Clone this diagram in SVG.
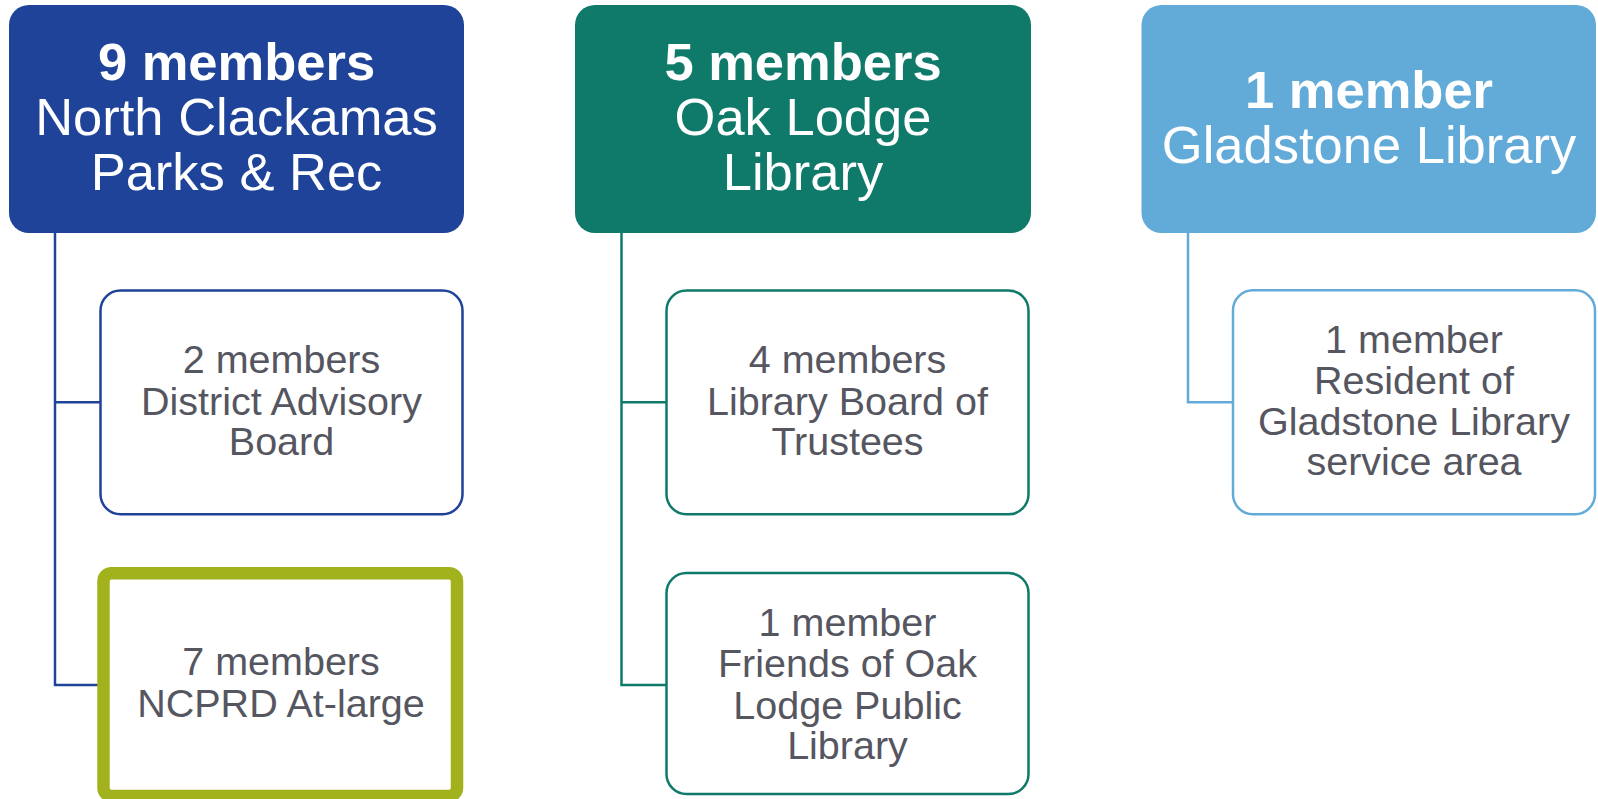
<svg xmlns="http://www.w3.org/2000/svg" width="1598" height="799" viewBox="0 0 1598 799">
<style>
.hd{font-family:"Liberation Sans",Arial,sans-serif;font-size:52.5px;fill:#ffffff;text-anchor:middle}
.b{font-weight:bold}
.ch{font-family:"Liberation Sans",Arial,sans-serif;font-size:39.5px;fill:#55565f;text-anchor:middle}
.conn{fill:none;stroke-width:2.5}
.cbox{fill:#ffffff;stroke-width:2.5}
</style>
<rect width="1598" height="799" fill="#ffffff"/>
<g id="connectors">
<path class="conn" stroke="#1f4399" d="M55,233 V685 H98 M55,402.3 H101"/>
<path class="conn" stroke="#0f7a6a" d="M621.5,233 V685 H667 M621.5,402.3 H667"/>
<path class="conn" stroke="#62abd8" d="M1188,233 V402.3 H1234"/>
</g>
<g id="n-ncprd">
<rect x="9" y="5" width="455" height="228" rx="20" fill="#1e4398"/>
<text class="hd b" x="236.5" y="80">9 members</text>
<text class="hd" x="236.5" y="135">North Clackamas</text>
<text class="hd" x="236.5" y="190">Parks &amp; Rec</text>
</g>
<g id="n-dab">
<rect class="cbox" stroke="#1f4399" x="100.5" y="290.5" width="362" height="223.8" rx="20"/>
<text class="ch" x="281.5" y="373">2 members</text>
<text class="ch" x="281.5" y="414.5">District Advisory</text>
<text class="ch" x="281.5" y="455">Board</text>
</g>
<g id="n-atlarge">
<rect x="103.5" y="573.2" width="353.5" height="222.8" rx="8" fill="#ffffff" stroke="#a2b21c" stroke-width="12.5"/>
<text class="ch" x="281" y="675">7 members</text>
<text class="ch" x="281" y="716.5">NCPRD At-large</text>
</g>
<g id="n-oaklodge">
<rect x="575" y="5" width="456" height="228" rx="20" fill="#0f7a6a"/>
<text class="hd b" x="803" y="80">5 members</text>
<text class="hd" x="803" y="135">Oak Lodge</text>
<text class="hd" x="803" y="190">Library</text>
</g>
<g id="n-trustees">
<rect class="cbox" stroke="#0f7a6a" x="666.5" y="290.5" width="362" height="223.8" rx="20"/>
<text class="ch" x="847.5" y="373">4 members</text>
<text class="ch" x="847.5" y="414.5">Library Board of</text>
<text class="ch" x="847.5" y="455">Trustees</text>
</g>
<g id="n-friends">
<rect class="cbox" stroke="#0f7a6a" x="666.5" y="573" width="362" height="221" rx="20"/>
<text class="ch" x="847.5" y="636">1 member</text>
<text class="ch" x="847.5" y="677">Friends of Oak</text>
<text class="ch" x="847.5" y="718.5">Lodge Public</text>
<text class="ch" x="847.5" y="759">Library</text>
</g>
<g id="n-gladstone">
<rect x="1141.5" y="5" width="454.5" height="228" rx="20" fill="#62abd8"/>
<text class="hd b" x="1369" y="108">1 member</text>
<text class="hd" x="1369" y="163">Gladstone Library</text>
</g>
<g id="n-resident">
<rect class="cbox" stroke="#62abd8" x="1233" y="290.3" width="362" height="224" rx="20"/>
<text class="ch" x="1414" y="353">1 member</text>
<text class="ch" x="1414" y="393.5">Resident of</text>
<text class="ch" x="1414" y="435">Gladstone Library</text>
<text class="ch" x="1414" y="475">service area</text>
</g>
</svg>
